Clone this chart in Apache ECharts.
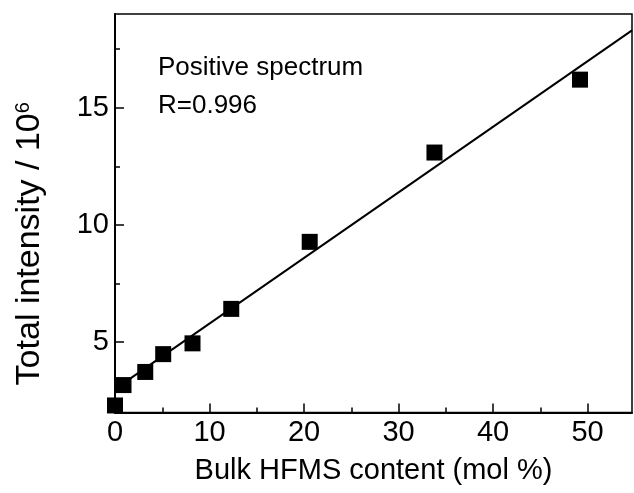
<!DOCTYPE html>
<html>
<head>
<meta charset="utf-8">
<script src="https://cdn.jsdelivr.net/npm/echarts@6/dist/echarts.min.js"></script>
<style>html,body{margin:0;padding:0;background:#fff;}#c{width:634px;height:493px;}</style>
</head>
<body>
<div id="c"></div>
<script>
// Data
var hfmsContent = [0.0, 0.9, 3.2, 5.1, 8.2, 12.3, 20.6, 33.8, 49.2];
var totalIntensity = [2.3, 3.17, 3.73, 4.49, 4.95, 6.42, 9.28, 13.09, 16.2];
var fitX = [0, 54.7];
var fitY = [3.0, 18.3];
var xMajorTicks = [0, 10, 20, 30, 40, 50];
var xMinorTicks = [5, 15, 25, 35, 45];
var yMajorTicks = [5, 10, 15];
var yMinorTicks = [7.5, 12.5, 17.5];
var annotationLines = ['Positive spectrum', 'R=0.996'];

var FONT = "'Liberation Sans', Arial, sans-serif";
var chart = echarts.init(document.getElementById('c'), null, {renderer: 'canvas'});

var scatterData = hfmsContent.map(function (x, i) { return [x, totalIntensity[i]]; });
var fitData = fitX.map(function (x, i) { return [x, fitY[i]]; });

var X_MIN = 0, X_MAX = 54.7, Y_MIN = 2, Y_MAX = 19;

function xAxisBase(extra) {
  return Object.assign({
    type: 'value', min: X_MIN, max: X_MAX, gridIndex: 0, position: 'bottom',
    splitLine: {show: false}
  }, extra);
}
function yAxisBase(extra) {
  return Object.assign({
    type: 'value', min: Y_MIN, max: Y_MAX, gridIndex: 0, position: 'left',
    splitLine: {show: false}
  }, extra);
}

chart.setOption({
  animation: false,
  backgroundColor: '#fff',
  grid: {left: 115, right: 2, top: 14, bottom: 80.5, show: true, borderColor: '#000', borderWidth: 1.5, containLabel: false},
  xAxis: [
    xAxisBase({
      name: 'Bulk HFMS content (mol %)', nameLocation: 'middle', nameGap: 44,
      nameTextStyle: {fontFamily: FONT, fontSize: 29, color: '#000'},
      axisLine: {show: true, onZero: false, lineStyle: {color: '#000', width: 2}},
      axisTick: {show: true, inside: true, length: 9, customValues: xMajorTicks, lineStyle: {color: '#000', width: 1.5}},
      axisLabel: {show: true, customValues: xMajorTicks, fontFamily: FONT, fontSize: 29, color: '#000', margin: 6}
    }),
    xAxisBase({
      axisLine: {show: false, onZero: false},
      axisTick: {show: true, inside: true, length: 5, customValues: xMinorTicks, lineStyle: {color: '#000', width: 1.5}},
      axisLabel: {show: false}
    })
  ],
  yAxis: [
    yAxisBase({
      name: 'Total intensity / 10{sup|6}', nameLocation: 'middle', nameGap: 68,
      nameTextStyle: {fontFamily: FONT, fontSize: 34, color: '#000', padding: [0, 61, 0, 0],
        rich: {sup: {fontFamily: FONT, fontSize: 20, color: '#000', verticalAlign: 'top', padding: [0, 0, 13, 0]}}},
      axisLine: {show: true, onZero: false, lineStyle: {color: '#000', width: 2}},
      axisTick: {show: true, inside: true, length: 9, customValues: yMajorTicks, lineStyle: {color: '#000', width: 1.5}},
      axisLabel: {show: true, customValues: yMajorTicks, fontFamily: FONT, fontSize: 29, color: '#000', margin: 6}
    }),
    yAxisBase({
      axisLine: {show: false, onZero: false},
      axisTick: {show: true, inside: true, length: 5, customValues: yMinorTicks, lineStyle: {color: '#000', width: 1.5}},
      axisLabel: {show: false}
    })
  ],
  graphic: [
    {type: 'text', left: 158, top: 55, style: {text: annotationLines[0], font: '26px ' + FONT, fill: '#000'}},
    {type: 'text', left: 158, top: 93, style: {text: annotationLines[1], font: '26px ' + FONT, fill: '#000'}}
  ],
  series: [
    {type: 'line', xAxisIndex: 0, yAxisIndex: 0, data: fitData, showSymbol: false, symbol: 'none',
     lineStyle: {color: '#000', width: 2}, z: 2},
    {type: 'scatter', xAxisIndex: 0, yAxisIndex: 0, data: scatterData, symbol: 'rect', symbolSize: 16,
     itemStyle: {color: '#000', opacity: 1}, z: 3}
  ]
});
</script>
</body>
</html>
